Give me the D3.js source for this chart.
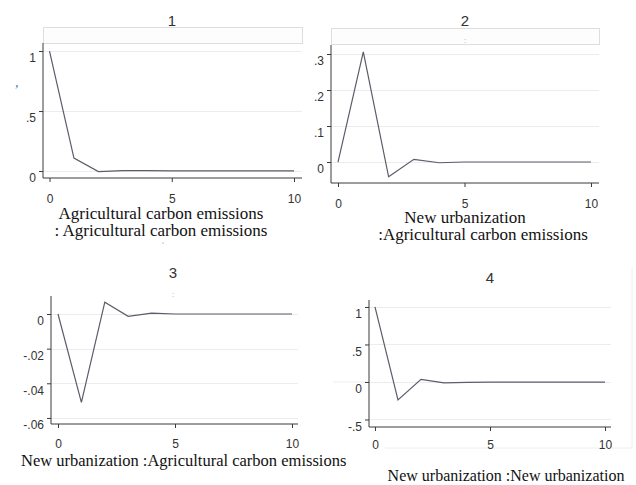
<!DOCTYPE html>
<html>
<head>
<meta charset="utf-8">
<script src="https://cdn.jsdelivr.net/npm/d3@7/dist/d3.min.js"></script>
<style>
  html, body { margin: 0; padding: 0; background: #fff; }
  svg { display: block; }
</style>
</head>
<body>
<svg id="chart" width="636" height="485"></svg>
<script>
// ---- Data ----
const steps = [0, 1, 2, 3, 4, 5, 6, 7, 8, 9, 10];
const panelTitles = ["1", "2", "3", "4"];
const series1 = [1, 0.108, -0.005, 0.003, 0.003, 0.002, 0.002, 0.002, 0.002, 0.002, 0.002];
const series2 = [0, 0.306, -0.041, 0.0075, -0.002, 0, 0, 0, 0, 0, 0];
const series3 = [0, -0.051, 0.0068, -0.0013, 0.0005, 0, 0, 0, 0, 0, 0];
const series4 = [1, -0.24, 0.036, -0.013, -0.005, -0.003, -0.003, -0.003, -0.003, -0.003, -0.003];
const xTicks = [0, 5, 10];
const xTickLabels = ["0", "5", "10"];
const yTicks1 = [0, 0.5, 1];       const yTickLabels1 = ["0", ".5", "1"];
const yTicks2 = [0, 0.1, 0.2, 0.3]; const yTickLabels2 = ["0", ".1", ".2", ".3"];
const yTicks3 = [0, -0.02, -0.04, -0.06]; const yTickLabels3 = ["0", "-.02", "-.04", "-.06"];
const yTicks4 = [-0.5, 0, 0.5, 1]; const yTickLabels4 = ["-.5", "0", ".5", "1"];
const labels1 = ["Agricultural carbon emissions", ": Agricultural carbon emissions"];
const labels2 = ["New urbanization", ":Agricultural carbon emissions"];
const labels3 = ["New urbanization :Agricultural carbon emissions"];
const labels4 = ["New urbanization :New urbanization"];

// ---- Layout ----
const panels = [
  { values: series1, yTicks: yTicks1, yLabels: yTickLabels1, title: panelTitles[0],
    x0: 43, x1: 302, y0: 178, y1: 43, xd: [-0.266, 10.327], yd: [-0.058, 1.067],
    titleX: 172, titleY: 27, strip: [43, 27, 259, 16], stripMark: null, stripMarkY: 0,
    labels: labels1, labelPos: [[161, 219, "middle"], [161, 236, "middle"]], xLabY: 202,
    labelSize: 17 },
  { values: series2, yTicks: yTicks2, yLabels: yTickLabels2, title: panelTitles[1],
    x0: 331, x1: 599, y0: 183, y1: 45, xd: [-0.277, 10.316], yd: [-0.0583, 0.325],
    titleX: 465, titleY: 27, strip: [331, 28, 268, 16], stripMark: ":", stripMarkY: 43,
    labels: labels2, labelPos: [[465, 223, "middle"], [483, 240, "middle"]], xLabY: 207,
    labelSize: 17 },
  { values: series3, yTicks: yTicks3, yLabels: yTickLabels3, title: panelTitles[2],
    x0: 51, x1: 298, y0: 424, y1: 296, xd: [-0.299, 10.256], yd: [-0.0635, 0.0104],
    titleX: 173, titleY: 279, strip: null, stripMark: ":", stripMarkY: 297,
    labels: labels3, labelPos: [[21, 466, "start"]], xLabY: 447, labelSize: 16.5 },
  { values: series4, yTicks: yTicks4, yLabels: yTickLabels4, title: panelTitles[3],
    x0: 369, x1: 611, y0: 427, y1: 300, xd: [-0.26, 10.26], yd: [-0.6, 1.093],
    titleX: 490, titleY: 284, strip: null, stripMark: null, stripMarkY: 0,
    labels: labels4, labelPos: [[506, 481, "middle"]], xLabY: 448, labelSize: 16 }
];

const svg = d3.select("#chart");
const axisColor = "#3a3a3a";
const gridColor = "#ececec";
const lineColor = "#5c5c6a";
const tickFont = "'Liberation Sans', Arial, sans-serif";
const serifFont = "'Liberation Serif', 'Times New Roman', serif";

// stray artifacts in the reference
svg.append("text").attr("x", 15).attr("y", 87).attr("font-family", serifFont)
  .attr("font-size", 14).attr("fill", "#3b7fb0").attr("font-style", "italic").text(",");
svg.append("circle").attr("cx", 163).attr("cy", 243).attr("r", 0.7).attr("fill", "#aaa");
// faint frame lines around panel 4
svg.append("line").attr("x1", 632).attr("x2", 632).attr("y1", 268).attr("y2", 448)
  .attr("stroke", "#eeeeee").attr("stroke-width", 1);
svg.append("line").attr("x1", 385).attr("x2", 632).attr("y1", 448).attr("y2", 448)
  .attr("stroke", "#eeeeee").attr("stroke-width", 1);
svg.append("line").attr("x1", 333).attr("x2", 369).attr("y1", 382).attr("y2", 382)
  .attr("stroke", "#eeeeee").attr("stroke-width", 1);

panels.forEach(p => {
  const g = svg.append("g");
  const x = d3.scaleLinear().domain(p.xd).range([p.x0, p.x1]);
  const y = d3.scaleLinear().domain(p.yd).range([p.y0, p.y1]);

  // strip
  if (p.strip) {
    g.append("rect").attr("x", p.strip[0] + 0.5).attr("y", p.strip[1] + 0.5)
      .attr("width", p.strip[2]).attr("height", p.strip[3])
      .attr("fill", "#fdfdfd").attr("stroke", "#dedede").attr("stroke-width", 1);
  }
  if (p.stripMark) {
    g.append("text").attr("x", p.titleX).attr("y", p.stripMarkY).attr("text-anchor", "middle")
      .attr("font-family", tickFont).attr("font-size", 8).attr("fill", "#999").text(p.stripMark);
  }
  // title
  g.append("text").attr("x", p.titleX).attr("y", p.titleY - 1).attr("text-anchor", "middle")
    .attr("font-family", tickFont).attr("font-size", 15).attr("fill", "#333")
    .text(p.title);

  // gridlines
  g.selectAll("line.grid").data(p.yTicks).enter().append("line")
    .attr("class", "grid")
    .attr("x1", p.x0).attr("x2", p.x1)
    .attr("y1", d => Math.round(y(d)) + 0.5).attr("y2", d => Math.round(y(d)) + 0.5)
    .attr("stroke", gridColor).attr("stroke-width", 1);

  // axes
  const yAxis = d3.axisLeft(y).tickValues(p.yTicks).tickSize(4).tickPadding(3)
    .tickFormat((d, i) => p.yLabels[i]);
  const ya = g.append("g").attr("transform", `translate(${p.x0},0)`).call(yAxis);
  ya.select(".domain").attr("stroke", axisColor).attr("d", `M0,${p.y0}V${p.y1}`);
  ya.selectAll(".tick line").attr("stroke", axisColor);
  ya.selectAll(".tick text").attr("font-family", tickFont).attr("font-size", 12)
    .attr("fill", "#333").attr("dy", "0.9em");

  const xAxis = d3.axisBottom(x).tickValues(xTicks).tickSize(4).tickPadding(3)
    .tickFormat((d, i) => xTickLabels[i]);
  const xa = g.append("g").attr("transform", `translate(0,${p.y0})`).call(xAxis);
  xa.select(".domain").attr("stroke", axisColor).attr("d", `M${p.x0},0H${p.x1}`);
  xa.selectAll(".tick line").attr("stroke", axisColor);
  xa.selectAll(".tick text").attr("font-family", tickFont).attr("font-size", 12)
    .attr("fill", "#333").attr("y", p.xLabY - p.y0 - 8).attr("dy", "0.71em");

  // line
  const line = d3.line().x((d, i) => x(steps[i])).y(d => y(d));
  g.append("path").datum(p.values).attr("d", line)
    .attr("fill", "none").attr("stroke", lineColor).attr("stroke-width", 1.2);

  // bottom labels
  p.labels.forEach((t, i) => {
    g.append("text").attr("x", p.labelPos[i][0]).attr("y", p.labelPos[i][1])
      .attr("text-anchor", p.labelPos[i][2])
      .attr("font-family", serifFont).attr("font-size", p.labelSize).attr("fill", "#111")
      .text(t);
  });
});
</script>
</body>
</html>
